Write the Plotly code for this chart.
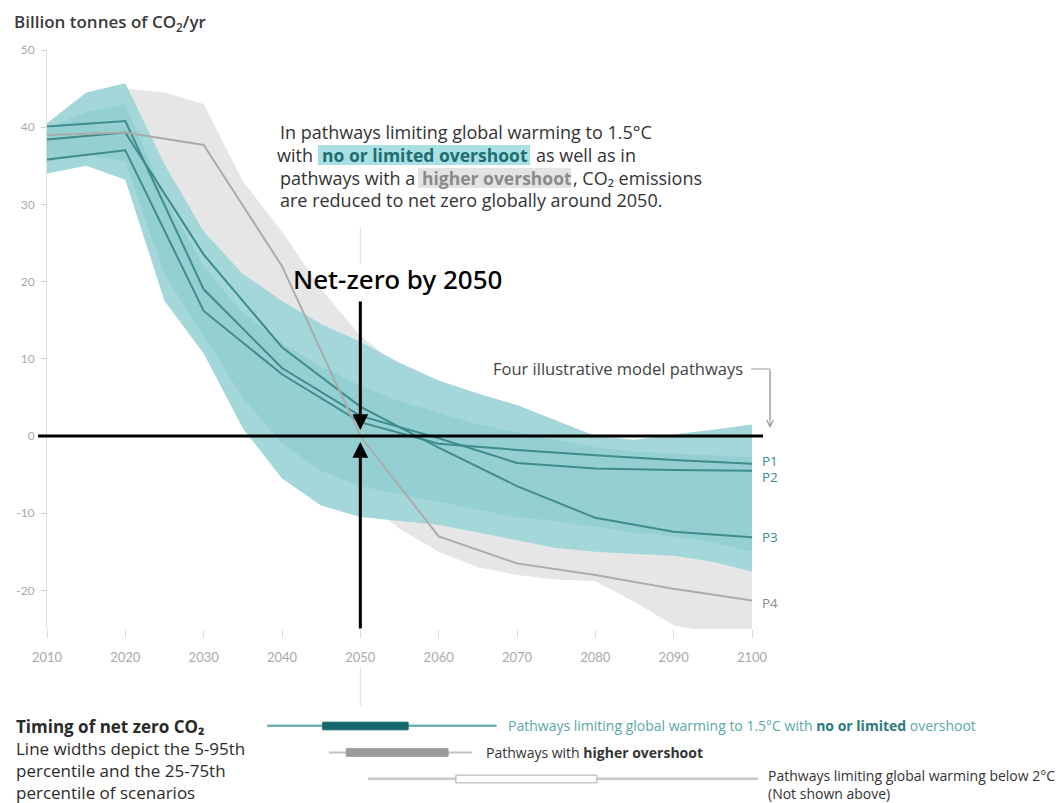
import plotly.graph_objects as go

# ---------------- data ----------------
band_years = [2010, 2015, 2020, 2025, 2030, 2035, 2040, 2045, 2050, 2055,
              2060, 2065, 2070, 2075, 2080, 2085, 2090, 2095, 2100]
# 1.5C no / limited overshoot envelope
teal_hi = [40.5, 44.5, 45.7, 35.2, 26.5, 21.0, 17.5, 14.5, 12.2, 9.5,
           7.2, 5.5, 4.0, 2.0, 0.0, -0.5, 0.2, 0.8, 1.5]
teal_lo = [34.0, 35.0, 33.2, 17.5, 10.7, 1.0, -5.5, -9.0, -10.5, -11.0,
           -11.5, -12.5, -13.5, -14.5, -15.0, -15.3, -15.5, -16.3, -17.6]
# denser core of the scenario lines
core_hi = [39.8, 42.0, 43.0, 31.0, 22.0, 16.0, 12.0, 9.0, 6.5, 4.5,
           3.0, 1.5, 0.5, -0.5, -1.5, -2.0, -2.3, -2.5, -2.8]
core_lo = [35.5, 36.5, 35.5, 21.0, 13.0, 5.0, -1.0, -4.5, -6.5, -7.5,
           -8.5, -9.5, -10.5, -11.0, -11.8, -12.5, -13.0, -13.8, -15.0]
# higher overshoot envelope
grey_hi = [40.0, 43.0, 45.0, 44.5, 43.0, 33.0, 26.5, 19.0, 13.0, 9.0,
           5.0, 3.0, 1.5, 0.5, -0.5, -1.0, -1.5, -2.0, -2.5]
grey_lo = [37.0, 38.0, 38.0, 30.0, 22.0, 12.0, 4.0, -3.0, -8.0, -12.0,
           -15.0, -17.0, -18.0, -18.6, -18.8, -21.5, -24.5, -25.5, -25.5]

path_years = [2010, 2020, 2030, 2040, 2050, 2060, 2070, 2080, 2090, 2100]
pathways = {
    "P1": [35.8, 37.0, 16.2, 8.0, 1.8, -1.0, -1.8, -2.5, -3.1, -3.6],
    "P2": [40.1, 40.8, 19.0, 8.8, 2.6, -0.3, -3.5, -4.2, -4.4, -4.5],
    "P3": [38.4, 39.3, 23.5, 11.5, 3.8, -1.5, -6.5, -10.6, -12.4, -13.1],
    "P4": [39.0, 39.3, 37.7, 22.0, 0.0, -13.0, -16.5, -18.0, -19.8, -21.3],
}
label_offsets = {"P1": 0.4, "P2": -0.8, "P3": 0.0, "P4": -0.3}

x_ticks = [2010, 2020, 2030, 2040, 2050, 2060, 2070, 2080, 2090, 2100]
y_ticks = [-20, -10, 0, 10, 20, 30, 40, 50]

# timing of net zero CO2 (years): 5th, 25th, 75th, 95th percentile
timing_rows = [0, 1, 2]
t_p05 = [2038.1, 2046.0, 2051.0]
t_p25 = [2045.2, 2048.2, 2062.2]
t_p75 = [2056.1, 2061.2, 2080.2]
t_p95 = [2067.4, 2064.3, 2100.8]

# ---------------- geometry helpers ----------------
W, H = 1063, 803
ML, MR, MT, MB = 47, 200, 50, 0
PW = W - ML - MR
PH = H - MT - MB


def px(xp):
    return (xp - ML) / PW


def py(yp):
    return (H - MB - yp) / PH


PX_PER_YEAR = 705 / 90.0
FONT = "Open Sans"
TICKFONT = "Lato"
TEAL_BAND = "#a3d7d9"
TEAL_CORE = "rgba(110,190,195,0.28)"
TEAL_LINE = "#3f8b8e"
GREY_BAND = "#e6e6e6"
GREY_LINE = "#ababab"

fig = go.Figure()


def band(xs, hi, lo, color):
    return go.Scatter(x=xs + xs[::-1], y=hi + lo[::-1], fill="toself",
                      fillcolor=color, line=dict(width=0), mode="lines",
                      hoverinfo="skip", showlegend=False)


fig.add_trace(band(band_years, grey_hi, grey_lo, GREY_BAND))
fig.add_trace(band(band_years, teal_hi, teal_lo, TEAL_BAND))
fig.add_trace(band(band_years, core_hi, core_lo, TEAL_CORE))

for name, vals in pathways.items():
    col = GREY_LINE if name == "P4" else TEAL_LINE
    fig.add_trace(go.Scatter(x=path_years, y=vals, mode="lines",
                             line=dict(color=col, width=2), name=name,
                             showlegend=False))

# timing bars (second subplot below)
thin_cols = ["#6fb3b6", "#c2c2c2", "#c8c8c8"]
thick_cols = ["#14676b", "#9b9b9b", "#ffffff"]
thick_line = ["#14676b", "#9b9b9b", "#aaaaaa"]
for i in timing_rows:
    fig.add_trace(go.Bar(y=[i], x=[t_p95[i] - t_p05[i]], base=[t_p05[i]],
                         orientation="h", width=0.075,
                         marker=dict(color=thin_cols[i], line=dict(width=0)),
                         xaxis="x2", yaxis="y2", showlegend=False))
for i in timing_rows:
    fig.add_trace(go.Bar(y=[i], x=[t_p75[i] - t_p25[i]], base=[t_p25[i]],
                         orientation="h", width=0.29,
                         marker=dict(color=thick_cols[i],
                                     line=dict(color=thick_line[i], width=1)),
                         xaxis="x2", yaxis="y2", showlegend=False))

row_px = 26.5
y2_top, y2_bot = 652.4, 803
y2_range = [(y2_bot - 726) / row_px, -(726 - y2_top) / row_px]

annotations = []


def txt(text, xp, yp, size=18, color="#333", xanchor="left",
        yanchor="middle", family=FONT, weight=None):
    f = dict(family=family, size=size, color=color)
    if weight:
        f["weight"] = weight
    annotations.append(dict(text=text, x=px(xp), y=py(yp), xref="paper",
                            yref="paper", showarrow=False, xanchor=xanchor,
                            yanchor=yanchor, align="left", font=f))


# title
txt("Billion tonnes of CO<sub>2</sub>/yr", 12, 22, size=17, color="#3a3a3a",
    weight=600)

# paragraph
txt("In pathways limiting global warming to 1.5°C", 278, 132)
txt("with", 315, 155, xanchor="right")
txt("no or limited overshoot", 320, 155, size=17.5, color="#1e6d6f",
    weight=700)
txt("as well as in", 534, 155)
txt("pathways with a", 278, 178)
txt("higher overshoot", 420, 178, size=17.5, color="#8a8a8a", weight=700)
txt(", CO₂ emissions", 571, 178)
txt("are reduced to net zero globally around 2050.", 278, 200)

# net zero
txt("Net-zero by 2050", 397, 279, size=26, color="#000",
    family="Noto Sans", weight=500, xanchor="center")

# four illustrative pathways
txt("Four illustrative model pathways", 745, 369, size=16.5, color="#444",
    xanchor="right")

# pathway labels
for name, vals in pathways.items():
    col = "#8a8a8a" if name == "P4" else "#3a8d90"
    annotations.append(dict(text=name, x=px(760), y=vals[-1] + label_offsets[name],
                            xref="paper", yref="y", showarrow=False,
                            xanchor="left", yanchor="middle",
                            font=dict(family=FONT, size=13.5, color=col)))

# black arrows
for ay in (-136, 194):
    annotations.append(dict(x=2050, y=0, xref="x", yref="y", text="",
                            showarrow=True, ax=0, ay=ay, arrowhead=2,
                            arrowsize=1.05, arrowwidth=3, arrowcolor="#000",
                            standoff=6))
# small grey arrow of the bracket
annotations.append(dict(x=px(770), y=py(428), xref="paper", yref="paper",
                        text="", showarrow=True, ax=0, ay=-58, arrowhead=5,
                        arrowsize=1.3, arrowwidth=1, arrowcolor="#9a9a9a"))

# bottom block
txt("<b>Timing of net zero CO₂</b><br>Line widths depict the 5-95th<br>"
    "percentile and the 25-75th<br>percentile of scenarios",
    14, 713, size=17, color="#2a2a2a", yanchor="top")

txt("Pathways limiting global warming to 1.5°C with "
    "<span style='color:#2a7a7d'><b>no or limited</b></span> overshoot",
    506, 725, size=14, color="#5aa7aa")
txt("Pathways with <b>higher overshoot</b>", 484, 752, size=14, color="#333")
txt("Pathways limiting global warming below 2°C<br>(Not shown above)",
    766, 764, size=14, color="#333", yanchor="top")

shapes = [
    # highlight boxes
    dict(type="rect", xref="paper", yref="paper", x0=px(318), x1=px(530),
         y0=py(165), y1=py(145), fillcolor="#a9e0e3", line=dict(width=0),
         layer="above"),
    dict(type="rect", xref="paper", yref="paper", x0=px(418), x1=px(571),
         y0=py(188), y1=py(168), fillcolor="#e3e3e3", line=dict(width=0),
         layer="above"),
    # net zero line
    dict(type="line", xref="paper", yref="y", x0=px(38), x1=px(763), y0=0,
         y1=0, line=dict(color="#000", width=3), layer="above"),
    # bracket for illustrative pathways
    dict(type="path", xref="paper", yref="paper",
         path=f"M {px(751)},{py(369)} L {px(770)},{py(369)} L {px(770)},{py(420)}",
         line=dict(color="#9a9a9a", width=1)),
    # faint guide at 2050
    dict(type="line", xref="x", yref="paper", x0=2050, x1=2050,
         y0=py(228), y1=py(264), line=dict(color="#dddddd", width=1)),
    dict(type="line", xref="x", yref="paper", x0=2050, x1=2050,
         y0=py(668), y1=py(706), line=dict(color="#dddddd", width=1)),
]

fig.update_layout(
    width=W, height=H, autosize=False,
    margin=dict(l=ML, r=MR, t=MT, b=MB),
    paper_bgcolor="white", plot_bgcolor="white",
    showlegend=False, barmode="overlay",
    font=dict(family=FONT, color="#333"),
    xaxis=dict(domain=[0, px(752)], range=[2010, 2100], tickvals=x_ticks,
               ticks="outside", ticklen=8, tickcolor="#dddddd",
               showline=False, showgrid=False, zeroline=False,
               tickfont=dict(family=TICKFONT, size=13, color="#aaaaaa"),
               ticklabelstandoff=8, anchor="y"),
    yaxis=dict(domain=[py(629), 1], range=[-25, 50], tickvals=y_ticks,
               ticktext=[str(v) for v in y_ticks],
               ticks="outside", ticklen=5, tickcolor="#cccccc",
               showline=True, linecolor="#dddddd", linewidth=1,
               showgrid=False, zeroline=False,
               tickfont=dict(family=TICKFONT, size=12, color="#aaaaaa"),
               ticklabelstandoff=4, anchor="x"),
    xaxis2=dict(domain=[0, 1], range=[2010, 2010 + PW / PX_PER_YEAR],
                visible=False, anchor="y2"),
    yaxis2=dict(domain=[0, py(y2_top)], range=y2_range, visible=False,
                anchor="x2"),
    annotations=annotations,
    shapes=shapes,
)

fig.write_html("out.html")
